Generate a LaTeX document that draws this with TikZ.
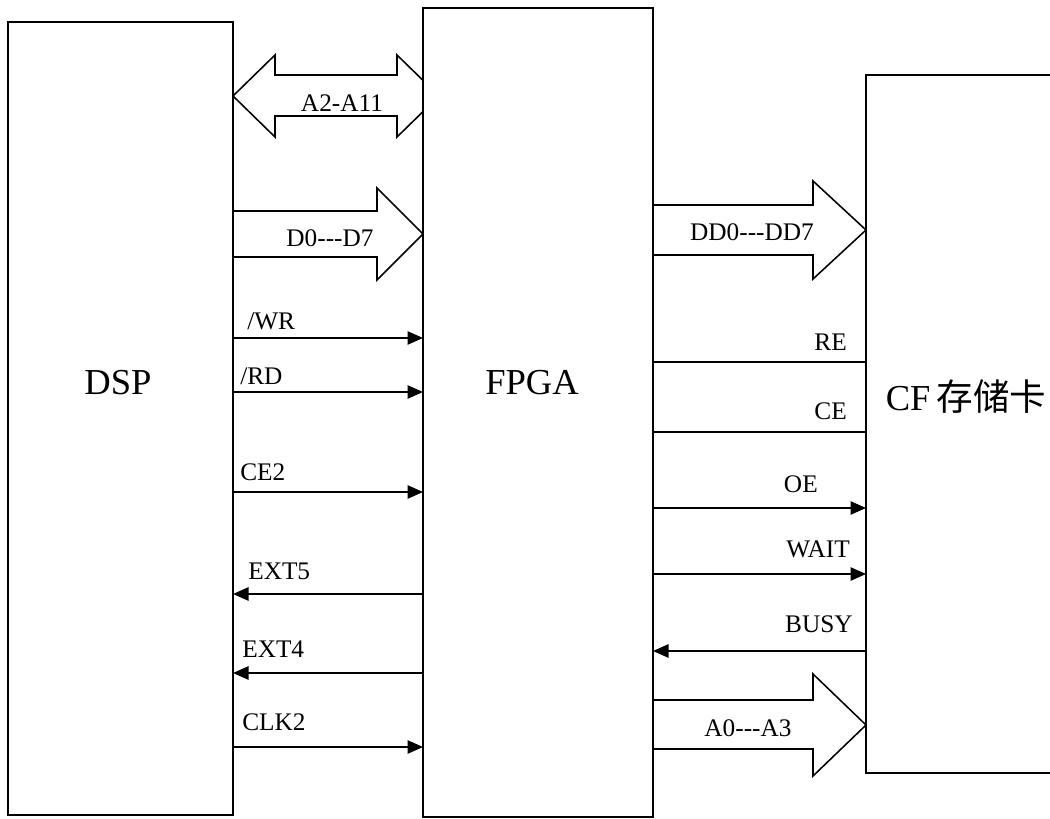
\documentclass[tikz,border=0pt]{standalone}
\usepackage{fontspec}
\setmainfont{Liberation Serif}
\newfontfamily\cjk{Noto Sans CJK SC}
\usepackage{tikz}
\usetikzlibrary{positioning,calc,arrows.meta}

\begin{document}
\begin{tikzpicture}[x=0.025cm, y=-0.025cm, >={Triangle[length=11pt,width=9.5pt]},
 box/.style = {rectangle, draw, line width=1.4pt, inner sep=0pt, outer sep=0pt},
 sig/.style = {line width=1.1pt},
 bus/.style = {line width=1.1pt, line join=miter},
 lab/.style = {font=\fontsize{18}{20}\selectfont, inner sep=0pt},
 big/.style = {font=\fontsize{26}{28}\selectfont, inner sep=0pt}]

\useasboundingbox (0,0) rectangle (1050,819);

\node[box, minimum width=5.625cm, minimum height=19.825cm] (dsp) at (120.5,418.5) {};
\node[box, minimum width=5.75cm, minimum height=20.225cm] (fpga) at (538,412.5) {};
\node[box, minimum width=5.225cm, minimum height=17.45cm] (cf) at (970.5,424) {};

\node[big] (dspname) at (118,383) {DSP};
\node[big] (fpganame) at (532,383) {FPGA};
\node[big] (cfname) at (966,397) {CF\,{\cjk 存储卡}};

% bus arrows
\draw[bus] (233,96) -- (275,55) -- (275,75) -- (397,75) -- (397,55) -- (423,80.4)
 -- (423,111.6) -- (397,137) -- (397,116) -- (275,116) -- (275,137) -- cycle;
\node[lab] (abus) at (342,103) {A2-A11};

\draw[bus] (233,211) -- (377,211) -- (377,188) -- (423,234) -- (377,280) -- (377,257) -- (233,257);
\node[lab] (dbus) at (330,238) {D0-{}-{}-D7};

\draw[bus] (653,205) -- (813,205) -- (813,181) -- (866,230) -- (813,279) -- (813,255) -- (653,255);
\node[lab] (ddbus) at (752,232) {DD0-{}-{}-DD7};

\draw[bus] (653,700) -- (813,700) -- (813,674) -- (866,725) -- (813,776) -- (813,749) -- (653,749);
\node[lab] (cfabus) at (748,728) {A0-{}-{}-A3};

% DSP <-> FPGA
\draw[sig,->] (dsp.east |- 0,338) -- (fpga.west |- 0,338);
\draw[sig,->] (dsp.east |- 0,392) -- (fpga.west |- 0,392);
\draw[sig,->] (dsp.east |- 0,492) -- (fpga.west |- 0,492);
\draw[sig,->] (fpga.west |- 0,594) -- (dsp.east |- 0,594);
\draw[sig,->] (fpga.west |- 0,673) -- (dsp.east |- 0,673);
\draw[sig,->] (dsp.east |- 0,747) -- (fpga.west |- 0,747);

\node[lab, anchor=base west] (wr) at (247,330) {/WR};
\node[lab, anchor=base west] (rd) at (240,384) {/RD};
\node[lab, anchor=base west] (ce2) at (240,480) {CE2};
\node[lab, anchor=base west] (ext5) at (248,579) {EXT5};
\node[lab, anchor=base west] (ext4) at (242,657) {EXT4};
\node[lab, anchor=base west] (clk2) at (242,730) {CLK2};

% FPGA <-> CF
\draw[sig] (fpga.east |- 0,362) -- (cf.west |- 0,362);
\draw[sig] (fpga.east |- 0,432) -- (cf.west |- 0,432);
\draw[sig,->] (fpga.east |- 0,508) -- (cf.west |- 0,508);
\draw[sig,->] (fpga.east |- 0,574) -- (cf.west |- 0,574);
\draw[sig,->] (cf.west |- 0,651) -- (fpga.east |- 0,651);

\node[lab, anchor=base east] (re) at (847,350) {RE};
\node[lab, anchor=base east] (ce) at (847,419) {CE};
\node[lab, anchor=base east] (oe) at (818,492) {OE};
\node[lab, anchor=base east] (wait) at (850,557) {WAIT};
\node[lab, anchor=base east] (busy) at (853,632) {BUSY};
\end{tikzpicture}
\end{document}
